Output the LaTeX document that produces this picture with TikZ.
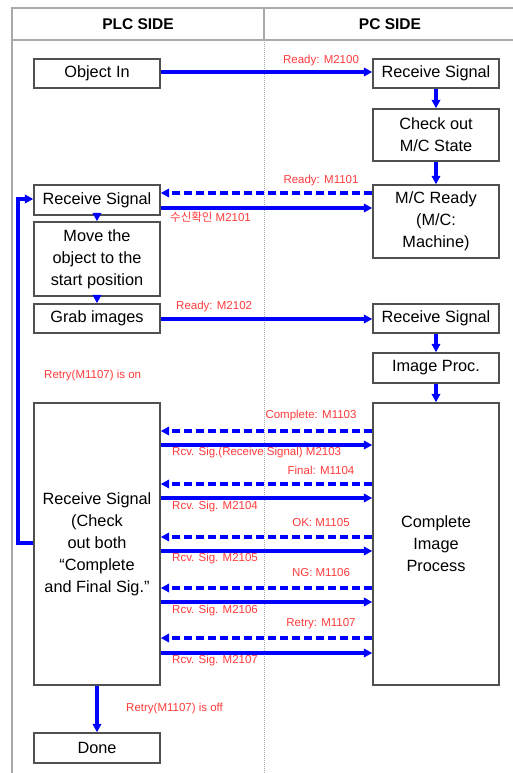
\documentclass[tikz,border=0pt]{standalone}
\usepackage{fontspec}
\setmainfont{Liberation Sans}
\newfontfamily\krfont{Noto Sans CJK KR}
\usetikzlibrary{arrows.meta}
\definecolor{sigblue}{RGB}{0,0,255}
\definecolor{labred}{RGB}{255,60,60}
\definecolor{boxgray}{RGB}{80,80,80}
\definecolor{framegray}{RGB}{170,170,170}
\begin{document}
\begin{tikzpicture}[x=1pt,y=-1pt,
  box/.style={draw=boxgray, line width=1.4pt, fill=white, minimum width=126pt, inner sep=0pt, align=center, font=\fontsize{16.3}{22}\selectfont},
  sig/.style={draw=sigblue, line width=3.3pt, -{Triangle[length=8.5pt,width=8.5pt]}},
  dsig/.style={sig, dash pattern=on 8pt off 4pt},
  lab/.style={text=labred, font=\fontsize{11.5}{13}\selectfont, inner sep=0pt},
  frame/.style={draw=framegray, line width=1.1pt},
  head/.style={font=\bfseries\fontsize{15.5}{18}\selectfont}]
\useasboundingbox[fill=white] (0,0) rectangle (513,773);
% frame
\draw[frame] (12,773) -- (12,8) -- (513,8);
\draw[frame] (12,40) -- (513,40);
\draw[frame] (264,8) -- (264,40);
\draw[frame, line width=1pt, dash pattern=on 1pt off 1pt] (264,40) -- (264,773);
\node[head] (hplc) at (138,24) {PLC SIDE};
\node[head] (hpc) at (390,24) {PC SIDE};
% boxes
\node[box, minimum height=29pt] (objin) at (97,73.5) {Object In};
\node[box, minimum height=29pt] (rs1) at (436,73.5) {Receive Signal};
\node[box, minimum height=52pt] (chk) at (436,135) {Check out\\M/C State};
\node[box, minimum height=73pt] (mcr) at (436,221.5) {M/C Ready\\(M/C:\\Machine)};
\node[box, minimum height=30pt] (rsp) at (97,200) {Receive Signal};
\node[box, minimum height=74pt] (mov) at (97,259) {Move the\\object to the\\start position};
\node[box, minimum height=29pt] (grab) at (97,318.5) {Grab images};
\node[box, minimum height=29pt] (rs2) at (436,318.5) {Receive Signal};
\node[box, minimum height=30pt] (imp) at (436,368) {Image Proc.};
\node[box, minimum height=282pt] (bigL) at (97,544) {Receive Signal\\(Check\\out both\\“Complete\\and Final Sig.”};
\node[box, minimum height=282pt] (bigR) at (436,544) {Complete\\Image\\Process};
\node[box, minimum height=30pt] (done) at (97,748) {Done};
% vertical arrows
\draw[sig] (rs1) -- (chk);
\draw[sig] (chk) -- (mcr);
\draw[sig] (rsp) -- (mov);
\draw[sig] (mov) -- (grab);
\draw[sig] (rs2) -- (imp);
\draw[sig] (imp) -- (bigR);
\draw[sig] (bigL) -- (done);
% horizontal signals
\draw[sig] (objin.east |- 0,72) -- (rs1.west |- 0,72);
\draw[dsig] (mcr.west |- 0,193) -- (rsp.east |- 0,193);
\draw[sig] (rsp.east |- 0,208) -- (mcr.west |- 0,208);
\draw[sig] (grab.east |- 0,319) -- (rs2.west |- 0,319);
\draw[dsig] (bigR.west |- 0,431) -- (bigL.east |- 0,431);
\draw[sig] (bigL.east |- 0,445) -- (bigR.west |- 0,445);
\draw[dsig] (bigR.west |- 0,484) -- (bigL.east |- 0,484);
\draw[sig] (bigL.east |- 0,498) -- (bigR.west |- 0,498);
\draw[dsig] (bigR.west |- 0,537) -- (bigL.east |- 0,537);
\draw[sig] (bigL.east |- 0,551) -- (bigR.west |- 0,551);
\draw[dsig] (bigR.west |- 0,588) -- (bigL.east |- 0,588);
\draw[sig] (bigL.east |- 0,602) -- (bigR.west |- 0,602);
\draw[dsig] (bigR.west |- 0,638) -- (bigL.east |- 0,638);
\draw[sig] (bigL.east |- 0,653) -- (bigR.west |- 0,653);
% retry loop
\coordinate (lp) at (18,0);
\draw[sig] (bigL.west |- 0,543) -- (lp |- 0,543) -- (lp |- 0,199) -- (rsp.west |- 0,199);
% labels
\node[lab] (l2100) at (321,61) {Ready: M2100};
\node[lab] (l1101) at (321,181) {Ready: M1101};
\node[lab, anchor=west] (l2101) at (170,217) {{\krfont 수신확인} M2101};
\node[lab, anchor=west] (l2102) at (176,307) {Ready: M2102};
\node[lab, anchor=west] (lon) at (44,376) {Retry(M1107) is on};
\node[lab] (l1103) at (311,416) {Complete: M1103};
\node[lab, anchor=west] (l2103) at (172,453) {Rcv. Sig.(Receive Signal) M2103};
\node[lab] (l1104) at (321,470) {Final: M1104};
\node[lab, anchor=west] (l2104) at (172,507) {Rcv. Sig. M2104};
\node[lab] (l1105) at (321,523) {OK: M1105};
\node[lab, anchor=west] (l2105) at (172,559) {Rcv. Sig. M2105};
\node[lab] (l1106) at (321,573) {NG: M1106};
\node[lab, anchor=west] (l2106) at (172,611) {Rcv. Sig. M2106};
\node[lab] (l1107) at (321,624) {Retry: M1107};
\node[lab, anchor=west] (l2107) at (172,661) {Rcv. Sig. M2107};
\node[lab, anchor=west] (loff) at (126,709) {Retry(M1107) is off};
\end{tikzpicture}
\end{document}
